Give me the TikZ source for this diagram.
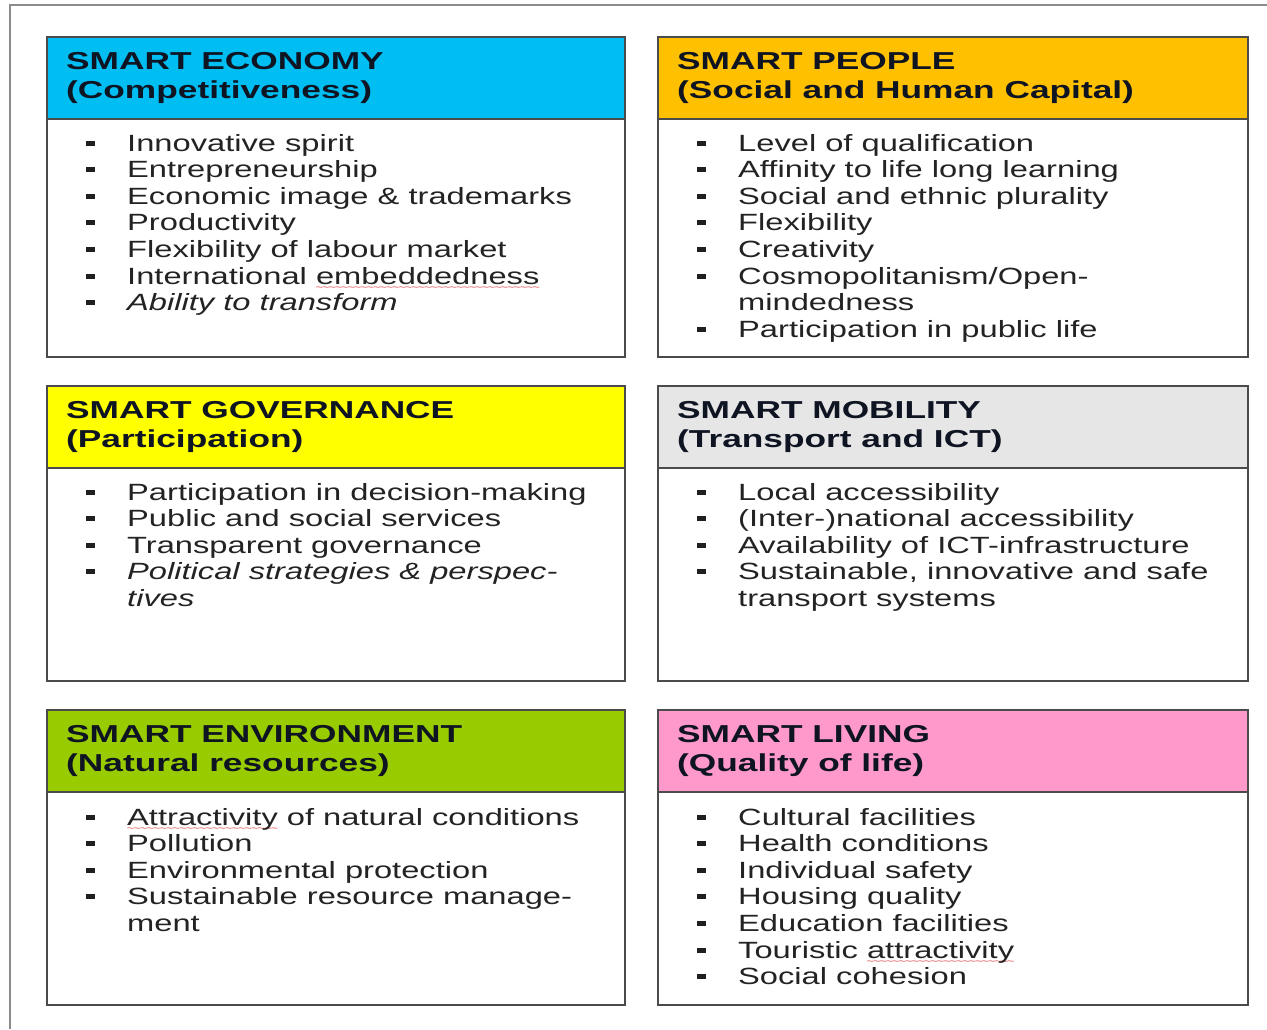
\documentclass[tikz,border=0pt]{standalone}
\usepackage{fontspec}
\setmainfont[FakeStretch=1.39]{Liberation Sans}
\newfontfamily\titlefont[FakeStretch=1.44]{Liberation Sans}
\usetikzlibrary{calc}
\definecolor{ecoC}{RGB}{0,190,242}
\definecolor{peoC}{RGB}{255,192,0}
\definecolor{govC}{RGB}{255,255,0}
\definecolor{mobC}{RGB}{230,230,230}
\definecolor{envC}{RGB}{153,204,0}
\definecolor{livC}{RGB}{255,153,204}
\definecolor{boxline}{RGB}{75,75,75}
\definecolor{framegray}{RGB}{140,140,140}
\definecolor{titleink}{RGB}{15,20,35}
\definecolor{itemink}{RGB}{35,35,35}
\definecolor{waveink}{RGB}{225,60,60}
\newcommand\redwave[1]{\setbox0\hbox{#1}\rlap{\lower6pt\hbox to\wd0{\color{waveink}\fontsize{9}{9}\selectfont\xleaders\hbox{\kern-0.5pt\char"7E\kern-0.5pt}\hfil}}\box0\relax}
\newcommand\smartbox[8]{%
  \node[boxbody, minimum width=#4pt, minimum height=#5pt] (#1) at (#2,#3) {};
  \node[boxhead, fill=#6, minimum width=#4pt] (#1H) at (#2,#3) {};
  \node[titletext] (#1T1) at (#2+20,#3+33) {#7};
  \node[titletext] (#1T2) at (#2+20,#3+62) {#8};
}
\newcommand\bul[4]{%
  \node[bulletmark] (#1m) at (#2+44,#3-8) {};
  \node[itemtext] (#1) at (#2+81,#3) {#4};
}
\newcommand\cont[4]{%
  \node[itemtext] (#1) at (#2+81,#3) {#4};
}
\begin{document}
\begin{tikzpicture}[x=1pt,y=-1pt,
  boxbody/.style={draw=boxline, line width=1.8pt, fill=white, anchor=north west, inner sep=0pt},
  boxhead/.style={draw=boxline, line width=1.8pt, anchor=north west, inner sep=0pt, minimum height=82pt},
  titletext/.style={anchor=base west, inner sep=0pt, text=titleink, font=\titlefont\fontsize{24.5}{28}\selectfont\bfseries},
  itemtext/.style={anchor=base west, inner sep=0pt, text=itemink, font=\fontsize{23.5}{26}\selectfont},
  bulletmark/.style={rectangle, fill=black!88, minimum width=9pt, minimum height=5pt, inner sep=0pt},
  framestyle/.style={draw=framegray, line width=2.2pt}]
\useasboundingbox (0,0) rectangle (1267,1029);
\fill[white] (0,0) rectangle (1267,1029);
\coordinate (fbl) at (10,1029);
\coordinate (ftl) at (10,5);
\coordinate (ftr) at (1267,5);
\draw[framestyle] (fbl) -- (ftl) -- (ftr);

% Economy
\smartbox{eco}{46}{36}{578}{320}{ecoC}{SMART ECONOMY}{(Competitiveness)}
\bul{e1}{46}{36+115}{Innovative spirit}
\bul{e2}{46}{36+115+26.6}{Entrepreneurship}
\bul{e3}{46}{36+115+26.6*2}{Economic image \& trademarks}
\bul{e4}{46}{36+115+26.6*3}{Productivity}
\bul{e5}{46}{36+115+26.6*4}{Flexibility of labour market}
\bul{e6}{46}{36+115+26.6*5}{International \redwave{embeddedness}}
\bul{e7}{46}{36+115+26.6*6}{\itshape Ability to transform}

% People
\smartbox{peo}{657}{36}{590}{320}{peoC}{SMART PEOPLE}{(Social and Human Capital)}
\bul{p1}{657}{36+115}{Level of qualification}
\bul{p2}{657}{36+115+26.6}{Affinity to life long learning}
\bul{p3}{657}{36+115+26.6*2}{Social and ethnic plurality}
\bul{p4}{657}{36+115+26.6*3}{Flexibility}
\bul{p5}{657}{36+115+26.6*4}{Creativity}
\bul{p6}{657}{36+115+26.6*5}{Cosmopolitanism/Open-}
\cont{p6b}{657}{36+115+26.6*6}{mindedness}
\bul{p7}{657}{36+115+26.6*7}{Participation in public life}

% Governance
\smartbox{gov}{46}{385}{578}{295}{govC}{SMART GOVERNANCE}{(Participation)}
\bul{g1}{46}{385+115}{Participation in decision-making}
\bul{g2}{46}{385+115+26.6}{Public and social services}
\bul{g3}{46}{385+115+26.6*2}{Transparent governance}
\bul{g4}{46}{385+115+26.6*3}{\itshape Political strategies \& perspec-}
\cont{g4b}{46}{385+115+26.6*4}{\itshape tives}

% Mobility
\smartbox{mob}{657}{385}{590}{295}{mobC}{SMART MOBILITY}{(Transport and ICT)}
\bul{m1}{657}{385+115}{Local accessibility}
\bul{m2}{657}{385+115+26.6}{(Inter-)national accessibility}
\bul{m3}{657}{385+115+26.6*2}{Availability of ICT-infrastructure}
\bul{m4}{657}{385+115+26.6*3}{Sustainable, innovative and safe}
\cont{m4b}{657}{385+115+26.6*4}{transport systems}

% Environment
\smartbox{env}{46}{709}{578}{295}{envC}{SMART ENVIRONMENT}{(Natural resources)}
\bul{n1}{46}{709+116}{\redwave{Attractivity} of natural conditions}
\bul{n2}{46}{709+116+26.6}{Pollution}
\bul{n3}{46}{709+116+26.6*2}{Environmental protection}
\bul{n4}{46}{709+116+26.6*3}{Sustainable resource manage-}
\cont{n4b}{46}{709+116+26.6*4}{ment}

% Living
\smartbox{liv}{657}{709}{590}{295}{livC}{SMART LIVING}{(Quality of life)}
\bul{l1}{657}{709+116}{Cultural facilities}
\bul{l2}{657}{709+116+26.6}{Health conditions}
\bul{l3}{657}{709+116+26.6*2}{Individual safety}
\bul{l4}{657}{709+116+26.6*3}{Housing quality}
\bul{l5}{657}{709+116+26.6*4}{Education facilities}
\bul{l6}{657}{709+116+26.6*5}{Touristic \redwave{attractivity}}
\bul{l7}{657}{709+116+26.6*6}{Social cohesion}
\end{tikzpicture}
\end{document}
